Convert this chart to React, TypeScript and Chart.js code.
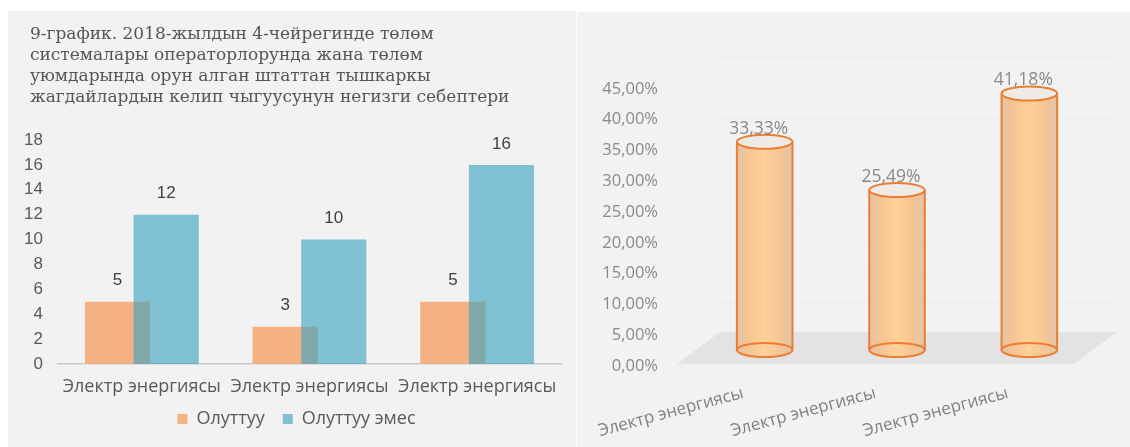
import React, { useEffect, useRef } from "react";
import { Chart, registerables } from "chart.js";

Chart.register(...registerables);

// ---------- data ----------
const titleLines = [
  "9-график. 2018-жылдын 4-чейрегинде төлөм",
  "системалары операторлорунда жана төлөм",
  "уюмдарында орун алган штаттан тышкаркы",
  "жагдайлардын келип чыгуусунун негизги себептери",
];
const categories = ["Электр энергиясы", "Электр энергиясы", "Электр энергиясы"];
const seriesNames = ["Олуттуу", "Олуттуу эмес"];
const significant = [5, 3, 5];
const nonSignificant = [12, 10, 16];
const leftAxisMax = 18;
const leftAxisStep = 2;

const shareCategories = ["Электр энергиясы", "Электр энергиясы", "Электр энергиясы"];
const shares = [33.33, 25.49, 41.18];
const rightAxisMax = 45;
const rightAxisStep = 5;

// ---------- styles ----------
const ORANGE = "#F4B183";
const BLUE = "rgba(56,163,190,0.62)";
const BG = "#f2f2f2";
const DEPTH_X = 43;
const DEPTH_Y = -32;

const fmtPct = (v: number) => v.toFixed(2).replace(".", ",") + "%";

const leftPlugin = {
  id: "leftOverlap",
  afterLayout(chart: any) {
    const lg = chart.legend;
    if (lg) {
      lg.top -= 8;
      lg.bottom -= 8;
      lg.left += 12;
      lg.right += 12;
    }
  },
  beforeDatasetDraw(chart: any, args: any) {
    if (args.index === 1) return false;
  },
  afterDatasetsDraw(chart: any) {
    const ctx = chart.ctx;
    const meta = chart.getDatasetMeta(1);
    meta.controller.draw();
    ctx.save();
    ctx.font = "17px 'Liberation Sans'";
    ctx.fillStyle = "#404040";
    ctx.textAlign = "center";
    ctx.textBaseline = "middle";
    chart.data.datasets.forEach((ds: any, di: number) => {
      const m = chart.getDatasetMeta(di);
      m.data.forEach((el: any, i: number) => {
        ctx.fillText(String(ds.data[i]), el.x, el.y - 21);
      });
    });
    ctx.restore();
  },
  afterDraw(chart: any) {
    const ctx = chart.ctx;
    ctx.save();
    ctx.font = "17px 'DejaVu Serif'";
    ctx.fillStyle = "#555555";
    ctx.textAlign = "left";
    ctx.textBaseline = "middle";
    titleLines.forEach((line, i) => {
      ctx.fillText(line, 22, 24 + i * 20.8);
    });
    ctx.restore();
  },
};

const cylinderPlugin = {
  id: "cylinders",
  beforeDatasetsDraw(chart: any) {
    const { ctx, chartArea } = chart;
    const ys = chart.scales.y;
    const y0 = ys.getPixelForValue(0);
    ctx.save();
    ctx.strokeStyle = "#ececec";
    ctx.lineWidth = 1;
    for (let v = rightAxisStep; v <= rightAxisMax; v += rightAxisStep) {
      const py = ys.getPixelForValue(v);
      ctx.beginPath();
      ctx.moveTo(chartArea.left, py);
      ctx.lineTo(chartArea.left + DEPTH_X, py + DEPTH_Y);
      ctx.lineTo(chartArea.right + DEPTH_X, py + DEPTH_Y);
      ctx.stroke();
    }
    ctx.fillStyle = "#e3e3e3";
    ctx.beginPath();
    ctx.moveTo(chartArea.left, y0 - 2);
    ctx.lineTo(chartArea.left + DEPTH_X, y0 - 2 + DEPTH_Y);
    ctx.lineTo(chartArea.right + DEPTH_X, y0 - 2 + DEPTH_Y);
    ctx.lineTo(chartArea.right, y0 - 2);
    ctx.closePath();
    ctx.fill();
    ctx.restore();
  },
  afterDatasetsDraw(chart: any) {
    const ctx = chart.ctx;
    const meta = chart.getDatasetMeta(0);
    const ds = chart.data.datasets[0];
    meta.data.forEach((bar: any, i: number) => {
      const { x, y, base, width } = bar.getProps(["x", "y", "base", "width"], true);
      const cx = x + DEPTH_X / 2;
      const top = y + DEPTH_Y / 2 - 3;
      const bottom = base + DEPTH_Y / 2;
      const rx = width / 2;
      const ry = 7;
      ctx.save();
      const g = ctx.createLinearGradient(cx - rx, 0, cx + rx, 0);
      g.addColorStop(0, "#e2c2aa");
      g.addColorStop(0.2, "#f5c493");
      g.addColorStop(0.5, "#fdd199");
      g.addColorStop(0.8, "#f5c493");
      g.addColorStop(1, "#e2c4ae");
      ctx.fillStyle = g;
      ctx.beginPath();
      ctx.moveTo(cx - rx, top);
      ctx.lineTo(cx - rx, bottom);
      ctx.ellipse(cx, bottom, rx, ry, 0, Math.PI, 0, true);
      ctx.lineTo(cx + rx, top);
      ctx.ellipse(cx, top, rx, ry, 0, 0, Math.PI, true);
      ctx.closePath();
      ctx.fill();
      ctx.strokeStyle = "#ED7D31";
      ctx.lineWidth = 2;
      ctx.beginPath();
      ctx.ellipse(cx, bottom, rx, ry, 0, 0, Math.PI * 2);
      ctx.stroke();
      ctx.beginPath();
      ctx.moveTo(cx - rx, top);
      ctx.lineTo(cx - rx, bottom);
      ctx.moveTo(cx + rx, top);
      ctx.lineTo(cx + rx, bottom);
      ctx.stroke();
      ctx.beginPath();
      ctx.ellipse(cx, top, rx, ry, 0, 0, Math.PI * 2);
      ctx.fillStyle = "#eeebe7";
      ctx.fill();
      ctx.stroke();
      ctx.font = "17.5px 'Open Sans'";
      ctx.fillStyle = "#8a8a8a";
      ctx.textAlign = "center";
      ctx.textBaseline = "middle";
      ctx.fillText(fmtPct(ds.data[i]), cx - 6, top - 13);
      ctx.restore();
    });
  },
};

export default function App() {
  const leftRef = useRef<HTMLCanvasElement>(null);
  const rightRef = useRef<HTMLCanvasElement>(null);

  useEffect(() => {
    const left = new Chart(leftRef.current as HTMLCanvasElement, {
      type: "bar",
      data: {
        labels: categories,
        datasets: [
          { label: seriesNames[0], data: significant, backgroundColor: ORANGE, borderWidth: 0 },
          { label: seriesNames[1], data: nonSignificant, backgroundColor: BLUE, borderWidth: 0 },
        ],
      },
      options: {
        animation: false,
        responsive: false,
        maintainAspectRatio: false,
        categoryPercentage: 0.58,
        barPercentage: 1.34,
        layout: { padding: { left: 0, right: 15, top: 129, bottom: 1 } },
        plugins: {
          title: { display: false },
          legend: {
            position: "bottom",
            labels: {
              boxWidth: 10,
              boxHeight: 10,
              padding: 18,
              color: "#595959",
              font: { family: "'Open Sans'", size: 18 },
            },
          },
          tooltip: { enabled: false },
        },
        scales: {
          x: {
            grid: { display: false, drawTicks: false },
            border: { display: true, color: "#c9c9c9", width: 1.5 },
            ticks: { color: "#595959", font: { family: "'Open Sans'", size: 18 }, padding: 12 },
            afterFit: (s: any) => {
              s.height = 36;
            },
          },
          y: {
            min: 0,
            max: leftAxisMax,
            grid: { display: false, drawTicks: false },
            border: { display: false },
            ticks: {
              stepSize: leftAxisStep,
              color: "#595959",
              font: { family: "'Liberation Sans'", size: 17 },
              padding: 15,
            },
            afterFit: (s: any) => {
              s.width = 50;
            },
          },
        },
      },
      plugins: [leftPlugin],
    } as any);

    const right = new Chart(rightRef.current as HTMLCanvasElement, {
      type: "bar",
      data: {
        labels: shareCategories,
        datasets: [{ label: "share", data: shares, backgroundColor: "rgba(0,0,0,0)", borderWidth: 0 }],
      },
      options: {
        animation: false,
        responsive: false,
        maintainAspectRatio: false,
        categoryPercentage: 1,
        barPercentage: 0.42,
        layout: { padding: { left: 0, right: 56, top: 77, bottom: 0 } },
        plugins: { legend: { display: false }, tooltip: { enabled: false } },
        scales: {
          x: {
            grid: { display: false, drawTicks: false },
            border: { display: false },
            ticks: {
              minRotation: 15,
              maxRotation: 15,
              color: "#808080",
              font: { family: "'Open Sans'", size: 17 },
              padding: 17,
            },
            afterFit: (s: any) => {
              s.height = 81;
              s.paddingLeft = 0;
              s.paddingRight = 0;
            },
          },
          y: {
            min: 0,
            max: rightAxisMax,
            grid: { display: false, drawTicks: false },
            border: { display: false },
            ticks: {
              stepSize: rightAxisStep,
              color: "#8a8a8a",
              font: { family: "'Open Sans'", size: 16.5 },
              padding: 19,
              callback: (v: any) => fmtPct(Number(v)),
            },
            afterFit: (s: any) => {
              s.width = 100;
            },
          },
        },
      },
      plugins: [cylinderPlugin],
    } as any);

    return () => {
      left.destroy();
      right.destroy();
    };
  }, []);

  return (
    <div style={{ position: "absolute", left: 0, top: 0, width: 1130, height: 447, background: "#fff", overflow: "hidden" }}>
      <div style={{ position: "absolute", left: 8, top: 11, width: 568, height: 436, background: BG }}>
        <canvas ref={leftRef} width={568} height={436} style={{ display: "block" }} />
      </div>
      <div style={{ position: "absolute", left: 577, top: 12, width: 553, height: 435, background: BG }}>
        <canvas ref={rightRef} width={553} height={435} style={{ display: "block" }} />
      </div>
    </div>
  );
}
